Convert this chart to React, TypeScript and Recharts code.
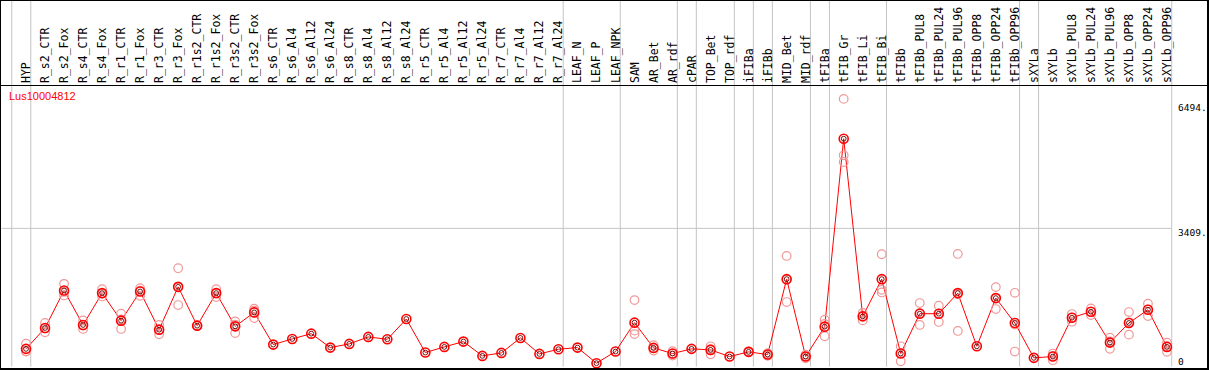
import { ComposedChart, Line, Scatter, XAxis, YAxis, ReferenceLine } from 'recharts';

const title = 'Lus10004812';

const categories = [
  'HYP', 'R_s2_CTR', 'R_s2_Fox', 'R_s4_CTR', 'R_s4_Fox', 'R_r1_CTR', 'R_r1_Fox', 'R_r3_CTR', 'R_r3_Fox',
  'R_r1s2_CTR', 'R_r1s2_Fox', 'R_r3s2_CTR', 'R_r3s2_Fox', 'R_s6_CTR', 'R_s6_Al4', 'R_s6_Al12', 'R_s6_Al24',
  'R_s8_CTR', 'R_s8_Al4', 'R_s8_Al12', 'R_s8_Al24', 'R_r5_CTR', 'R_r5_Al4', 'R_r5_Al12', 'R_r5_Al24',
  'R_r7_CTR', 'R_r7_Al4', 'R_r7_Al12', 'R_r7_Al24', 'LEAF_N', 'LEAF_P', 'LEAF_NPK', 'SAM', 'AR_Bet', 'AR_rdf',
  'cPAR', 'TOP_Bet', 'TOP_rdf', 'iFIBa', 'iFIBb', 'MID_Bet', 'MID_rdf', 'tFIBa', 'tFIB_Gr', 'tFIB_Li', 'tFIB_Bi',
  'tFIBb', 'tFIBb_PUL8', 'tFIBb_PUL24', 'tFIBb_PUL96', 'tFIBb_OPP8', 'tFIBb_OPP24', 'tFIBb_OPP96',
  'sXYLa', 'sXYLb', 'sXYLb_PUL8', 'sXYLb_PUL24', 'sXYLb_PUL96', 'sXYLb_OPP8', 'sXYLb_OPP24', 'sXYLb_OPP96',
];

// mean expression per sample
const means = [
  435, 951, 1876, 1025, 1811, 1131, 1851, 909, 1966,
  1008, 1811, 991, 1335, 541, 680, 811, 467,
  558, 730, 671, 1172, 344, 484, 614, 262,
  336, 705, 311, 426, 467, 82, 369, 1082, 459, 320,
  435, 410, 246, 361, 295, 2156, 246, 983, 5621, 1237, 2156,
  320, 1303, 1303, 1811, 499, 1688, 1074,
  213, 246, 1204, 1352, 590, 1074, 1401, 484,
];

// individual replicates (empty = hidden under the mean)
const replicates: number[][] = [
  [565, 376, 370], [1074, 843, 940], [2040, 1753, 1840], [1138, 927, 1010], [1910, 1729, 1795],
  [1303, 927, 1160], [1934, 1745, 1870], [1025, 794, 910], [2426, 1516, 1960],
  [1000, 1015, 1010], [1910, 1713, 1810], [1114, 827, 1030], [1426, 1196, 1380],
  [], [], [], [], [], [], [], [], [], [], [], [], [], [], [], [], [], [], [],
  [1639, 885, 800], [524, 393, 460], [376, 270, 315],
  [], [499, 302, 430], [], [370, 350], [330, 265, 290], [2728, 1590, 2150], [290, 200, 250],
  [1155, 745, 1050], [6604, 5212, 5047], [1320, 1138, 1250], [2770, 1893, 1827],
  [499, 130, 330], [1566, 1025, 1320], [1499, 1099, 1310], [2778, 877, 1780], [],
  [1959, 1418, 1690], [1819, 369, 1035],
  [], [320, 155, 260], [1295, 1106, 1210], [1433, 1271, 1350], [713, 435, 620],
  [1344, 786, 1090], [1549, 1246, 1410], [590, 361, 500],
];

const yTicks = [0, 3409, 6494];
const gridValue = 3409;
// group separators sit just after these sample indices
const separatorsAfter = [-1, 0, 28, 31, 34, 35, 37, 38, 39, 41, 42, 45, 52, 53, 60];

const data = categories.map((name, i) => ({ idx: i, name, mean: means[i] }));
const repData = replicates.flatMap((vals, i) => vals.map((v) => ({ idx: i, value: v })));

const W = 1209;
const H = 370;

const TopLabel = (props: any) => {
  const { x, payload } = props;
  return (
    <text
      transform={`translate(${x + 4},83) rotate(-90)`}
      fontFamily="'DejaVu Sans Mono', monospace"
      fontSize={11.5}
      fill="#000"
      textAnchor="start"
    >
      {categories[payload.value]}
    </text>
  );
};

const RightTick = (props: any) => {
  const { y, payload } = props;
  return (
    <text
      x={1178}
      y={payload.value === 0 ? y - 1.5 : y + 7.5}
      fontFamily="'DejaVu Sans Mono', monospace"
      fontSize={9.5}
      fill="#000"
      textAnchor="start"
    >
      {payload.value === 0 ? '0' : `${payload.value}.`}
    </text>
  );
};

const MeanDot = (props: any) => {
  const { cx, cy, index } = props;
  return (
    <g key={`m${index}`}>
      <circle cx={cx} cy={cy} r={4.5} fill="none" stroke="#ff0000" strokeWidth={1.6} />
      <circle cx={cx} cy={cy} r={2.4} fill="none" stroke="#600000" strokeWidth={0.9} />
    </g>
  );
};

const RepDot = ({ cx, cy }: any) => (
  <circle cx={cx} cy={cy} r={4.3} fill="none" stroke="#f09898" strokeWidth={1.2} />
);

export default function App() {
  return (
    <div style={{ position: 'absolute', left: 0, top: 0, width: W, height: H, background: '#fff' }}>
      <ComposedChart width={W} height={H} data={data} margin={{ top: 0, right: 0, bottom: 3.5, left: 0 }}>
        <XAxis
          type="number"
          dataKey="idx"
          orientation="top"
          domain={[-26 / 19, (W - 1 - 26) / 19]}
          ticks={categories.map((_, i) => i)}
          interval={0}
          height={1}
          axisLine={false}
          tickLine={false}
          tick={TopLabel}
        />
        <YAxis
          orientation="right"
          mirror
          width={1}
          domain={[0, 9020]}
          ticks={yTicks}
          interval={0}
          axisLine={false}
          tickLine={false}
          tick={RightTick}
        />
        {separatorsAfter.map((s) => (
          <ReferenceLine key={`sep${s}`} x={s + 0.25} stroke="#c4c4c4" strokeWidth={1} ifOverflow="visible" />
        ))}
        <ReferenceLine
          segment={[{ x: -1.3, y: gridValue }, { x: 60.25, y: gridValue }]}
          stroke="#c4c4c4"
          strokeWidth={1}
          ifOverflow="visible"
        />
        <Scatter data={repData} dataKey="value" shape={RepDot} isAnimationActive={false} />
        <Line
          type="linear"
          dataKey="mean"
          stroke="#ff0000"
          strokeWidth={1}
          dot={MeanDot}
          activeDot={false}
          isAnimationActive={false}
        />
      </ComposedChart>
      <div
        style={{
          position: 'absolute', left: 0, top: 84.5, width: W, height: 1.5, background: '#000', pointerEvents: 'none',
        }}
      />
      <div
        style={{
          position: 'absolute', left: 0, top: 0, width: W, height: H, boxSizing: 'border-box',
          borderStyle: 'solid', borderColor: '#000', borderWidth: '1px 2px 2px 1px', pointerEvents: 'none',
        }}
      />
      <div
        style={{
          position: 'absolute', left: 9, top: 90, color: '#ff0000', fontFamily: "'Liberation Sans', Arial, sans-serif",
          fontSize: 11, lineHeight: '13px', pointerEvents: 'none',
        }}
      >
        {title}
      </div>
    </div>
  );
}
